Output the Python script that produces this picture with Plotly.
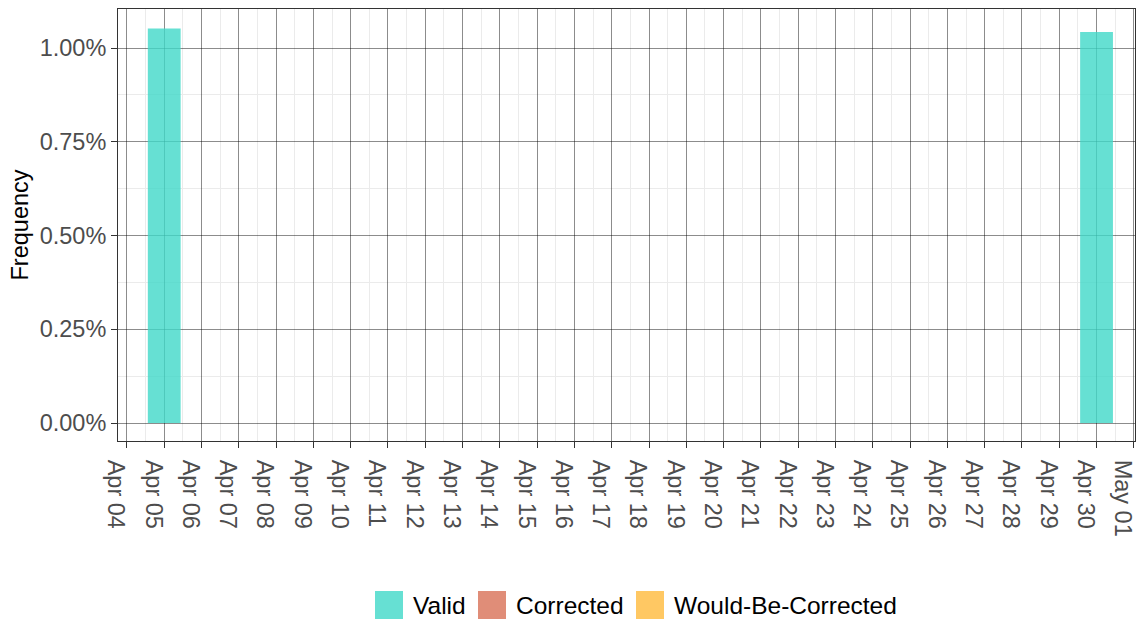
import plotly.graph_objects as go

dates = ["2023-04-05", "2023-04-30"]
valid = [0.01052, 0.01043]
corrected = [0.0, 0.0]
would_be = [0.0, 0.0]

series = [
    ("Valid", valid, "rgba(64,216,200,0.8)"),
    ("Corrected", corrected, "rgba(216,112,86,0.8)"),
    ("Would-Be-Corrected", would_be, "rgba(255,186,60,0.8)"),
]

W, H = 1137, 620
ML, MR, MT, MB = 118, 2, 9, 179
PW, PH = W - ML - MR, H - MT - MB


def px_x(px):
    return (px - ML) / PW


def px_y(py):
    return (H - MB - py) / PH


DAY = 86400000
fig = go.Figure()
for name, vals, col in series:
    fig.add_trace(go.Bar(
        x=dates, y=vals, name=name, width=0.88 * DAY, showlegend=False,
        marker=dict(color=col, line=dict(width=0)),
    ))

# legend (drawn as keys + labels)
key_left = [375, 478, 636]
for (name, vals, col), kx in zip(series, key_left):
    fig.add_shape(type="rect", xref="paper", yref="paper",
                  x0=px_x(kx), x1=px_x(kx + 28), y0=px_y(619), y1=px_y(591),
                  fillcolor=col, line=dict(width=0))
    fig.add_annotation(xref="paper", yref="paper", x=px_x(kx + 36), y=px_y(605),
                       xanchor="left", yanchor="middle", text=name, showarrow=False,
                       font=dict(size=24.5, color="black"))

fig.update_layout(
    barmode="overlay",
    width=W, height=H,
    margin=dict(l=ML, r=MR, t=MT, b=MB),
    paper_bgcolor="white", plot_bgcolor="white",
    font=dict(family="Liberation Sans, Arial, sans-serif", size=23.5, color="#4D4D4D"),
    showlegend=False,
    xaxis=dict(
        type="date", automargin=False,
        range=["2023-04-03 18:15", "2023-05-01 00:45"],
        tickformat="%b %d", dtick=DAY, tick0="2023-04-04",
        tickangle=90, ticklabelshift=-11, ticklabelstandoff=7, ticklabeloverflow="allow",
        ticks="outside", ticklen=6, tickcolor="#333333", tickwidth=1.2,
        showline=True, linecolor="#333333", linewidth=1, mirror=True,
        showgrid=True, gridcolor="rgba(0,0,0,0.45)", gridwidth=0.6,
        minor=dict(dtick=DAY / 2, showgrid=True, gridcolor="#EBEBEB", gridwidth=0.6),
        zeroline=False,
    ),
    yaxis=dict(
        automargin=False,
        range=[-0.00048, 0.01104],
        tickvals=[0, 0.0025, 0.005, 0.0075, 0.01],
        tickformat=".2%",
        ticks="outside", ticklen=6, tickcolor="#333333", tickwidth=1.2,
        showline=True, linecolor="#333333", linewidth=1, mirror=True,
        showgrid=True, gridcolor="rgba(0,0,0,0.45)", gridwidth=0.6,
        minor=dict(tickvals=[0.00125, 0.00375, 0.00625, 0.00875, 0.01125], showgrid=True,
                   gridcolor="#EBEBEB", gridwidth=0.6),
        zeroline=False,
        title=dict(text="Frequency", font=dict(size=23.5, color="black"), standoff=4),
    ),
)

fig.write_html(
    "out.html",
    config={"displayModeBar": False},
    post_script="document.body.style.margin='0px';document.body.style.overflow='hidden';",
)
